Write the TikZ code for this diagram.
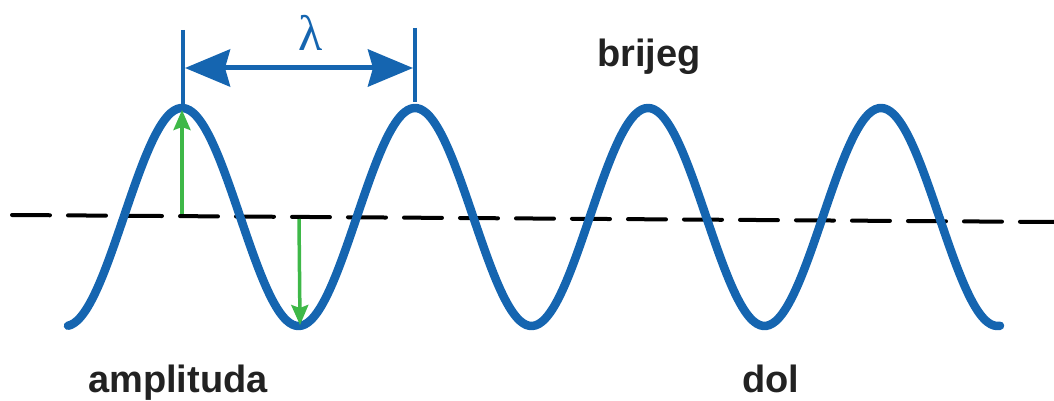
\documentclass[tikz,border=0pt]{standalone}
\usepackage{fontspec}
\setmainfont{Liberation Sans}
\newfontfamily\lamfont{Liberation Serif}
\usetikzlibrary{arrows.meta}
\definecolor{waveblue}{RGB}{21,101,176}
\definecolor{ampgreen}{RGB}{62,184,72}
\definecolor{txtgray}{RGB}{34,34,34}
\begin{document}
\begin{tikzpicture}[x=1pt,y=-1pt,
  wavestyle/.style={draw=waveblue,line width=8.5pt,line cap=round,line join=round},
  midline/.style={draw=black,line width=4pt,line cap=round,dash pattern=on 38pt off 18pt},
  tickline/.style={draw=waveblue,line width=4pt},
  lamarrow/.style={draw=waveblue,line width=5pt,{Stealth[length=45pt,width=37pt,inset=5pt]}-{Stealth[length=45pt,width=37pt,inset=5pt]}},
  amparrow/.style={draw=ampgreen,line width=3.5pt,-{Stealth[length=20pt,width=17pt,inset=3pt]}},
  labeltext/.style={font=\fontsize{38}{40}\selectfont\bfseries,text=txtgray,inner sep=0pt,anchor=base west}]
\useasboundingbox (0,0) rectangle (1054,401);
% midline
\coordinate (mL) at (12,215);
\coordinate (mR) at (1054,222);
\draw[midline] (mL) -- (mR);
% wave
\draw[wavestyle] plot[domain=68:1000,samples=300,smooth] (\x,{217-109*cos(1.545064*(\x-182))});
% peaks, troughs
\coordinate (pk1) at (182,108);
\coordinate (pk2) at (415,108);
\coordinate (tr1) at (299,326);
% lambda ticks
\coordinate (t1top) at (183,30);
\coordinate (t1bot) at (183,104);
\coordinate (t2top) at (415,28);
\coordinate (t2bot) at (415,102);
\draw[tickline] (t1top) -- (t1bot);
\draw[tickline] (t2top) -- (t2bot);
\coordinate (aL) at (185,68);
\coordinate (aR) at (413,68);
\draw[lamarrow] (aL) -- (aR);
\node[text=waveblue,inner sep=0pt,font=\lamfont\fontsize{50}{52}\selectfont] (lam) at (311,33) {λ};
% amplitude arrows
\coordinate (a1s) at (182,214);
\coordinate (a1e) at (182,110);
\draw[amparrow] (a1s) -- (a1e);
\coordinate (a2s) at (299,219);
\coordinate (a2e) at (300,325);
\draw[amparrow] (a2s) -- (a2e);
% labels
\node[labeltext] (brijeg) at (597,67) {brijeg};
\node[labeltext] (amp) at (88,392) {amplituda};
\node[labeltext] (dol) at (742,392) {dol};
\end{tikzpicture}
\end{document}
